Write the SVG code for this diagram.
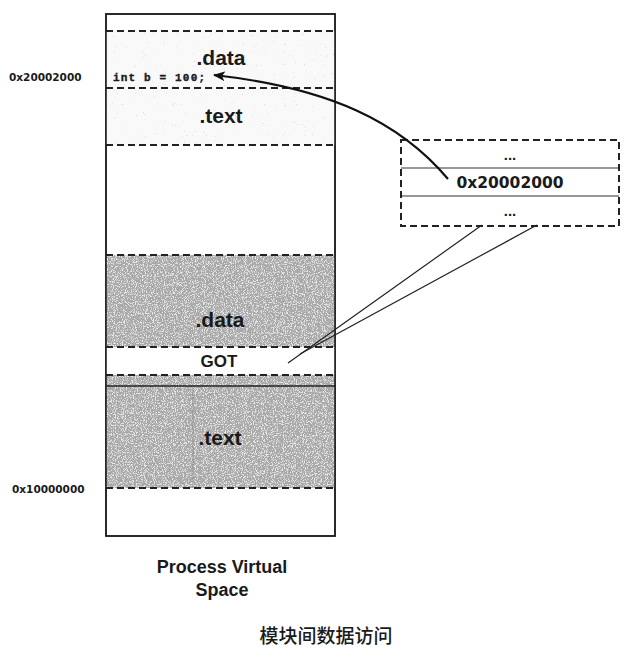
<svg xmlns="http://www.w3.org/2000/svg" width="628" height="664" viewBox="0 0 628 664">
<style>
.solid{fill:none;stroke:#222;stroke-width:1.6}
.dash{fill:none;stroke:#222;stroke-width:2;stroke-dasharray:7 4}
.thin{fill:none;stroke:#333;stroke-width:1.2}
.light{fill:#f9f9f9}
.grey{fill:#a9a9a9}
.lbl{font-family:"Liberation Sans",Arial,sans-serif;font-weight:bold;fill:#1a1a1a}
.wide{font-family:"DejaVu Sans","Liberation Sans",sans-serif;font-weight:bold;fill:#1a1a1a}
.big{font-size:21px;text-anchor:middle}
.mono{font-family:"Liberation Mono","Courier New",monospace;font-weight:bold;font-size:11px;fill:#1a1a1a;stroke:#1a1a1a;stroke-width:0.35}
.addr{font-size:10.5px}
</style>
<defs>
<filter id="speck" x="0" y="0" width="100%" height="100%">
<feTurbulence type="fractalNoise" baseFrequency="0.9" numOctaves="2" seed="4" result="n"/>
<feColorMatrix in="n" type="matrix" values="0 0 0 0 1 0 0 0 0 1 0 0 0 0 1 9 0 0 0 -4.6"/>
</filter>
<filter id="speckd" x="0" y="0" width="100%" height="100%">
<feTurbulence type="fractalNoise" baseFrequency="1.1" numOctaves="1" seed="7" result="n"/>
<feColorMatrix in="n" type="matrix" values="0 0 0 0 0.5 0 0 0 0 0.5 0 0 0 0 0.5 14 0 0 0 -9.8"/>
</filter>
<marker id="ah" markerWidth="12" markerHeight="10" refX="11" refY="5" orient="auto" markerUnits="userSpaceOnUse">
<path d="M0,0 L12,5 L0,10 L3,5 Z" fill="#111"/>
</marker>
</defs>
<rect width="628" height="664" fill="#fff"/>

<g id="process-space">
<rect x="106" y="14" width="229" height="522" fill="#fff" class="solid"/>
</g>

<g id="upper-data">
<rect x="106" y="31" width="229" height="57" class="light"/>
<rect x="106" y="31" width="229" height="57" filter="url(#speckd)" opacity="0.5"/>
<line x1="106" y1="31" x2="335" y2="31" class="dash"/>
<text x="221" y="65" class="lbl big">.data</text>
<text x="113" y="81" class="mono" textLength="92">int b = 100;</text>
</g>

<g id="upper-text">
<rect x="106" y="88" width="229" height="57" class="light"/>
<rect x="106" y="88" width="229" height="57" filter="url(#speckd)" opacity="0.5"/>
<line x1="106" y1="88" x2="335" y2="88" class="dash"/>
<line x1="106" y1="145" x2="335" y2="145" class="dash"/>
<text x="221" y="123" class="lbl big">.text</text>
</g>

<g id="lower-data">
<rect x="106" y="255" width="229" height="92" class="grey"/>
<rect x="106" y="255" width="229" height="92" filter="url(#speck)" opacity="0.7"/>
<line x1="106" y1="255" x2="335" y2="255" class="dash"/>
<text x="220" y="327" class="lbl big" fill="#2a2a2a">.data</text>
</g>

<g id="got">
<rect x="106" y="347" width="229" height="28" fill="#fff"/>
<line x1="106" y1="347" x2="335" y2="347" class="dash"/>
<text x="219" y="367" class="lbl" font-size="17" text-anchor="middle">GOT</text>
</g>

<g id="lower-text">
<rect x="106" y="375" width="229" height="113" class="grey"/>
<rect x="106" y="375" width="229" height="113" filter="url(#speck)" opacity="0.7"/>
<line x1="193" y1="386" x2="193" y2="488" stroke="#888" stroke-width="0.8"/>
<line x1="106" y1="375" x2="335" y2="375" class="dash"/>
<line x1="106" y1="386" x2="335" y2="386" class="solid"/>
<line x1="106" y1="488" x2="335" y2="488" class="dash"/>
<text x="220" y="445" class="lbl big">.text</text>
</g>

<g id="process-border">
<rect x="106" y="14" width="229" height="522" class="solid"/>
</g>

<g id="addr-labels">
<text x="9" y="81" class="wide addr">0x20002000</text>
<text x="12" y="493" class="wide addr">0x10000000</text>
</g>

<g id="got-table">
<rect x="401" y="140" width="218" height="86" fill="#fff"/>
<line x1="401" y1="168" x2="619" y2="168" class="thin"/>
<line x1="401" y1="196" x2="619" y2="196" class="thin"/>
<rect x="401" y="140" width="218" height="86" class="dash"/>
<text x="510" y="160" class="lbl" font-size="15" text-anchor="middle">...</text>
<text x="510" y="188" class="wide" font-size="15.5" text-anchor="middle">0x20002000</text>
<text x="510" y="216" class="lbl" font-size="15" text-anchor="middle">...</text>
</g>

<g id="connectors">
<path d="M448,179 C400,122 330,88 214,75" fill="none" stroke="#111" stroke-width="2.2" marker-end="url(#ah)"/>
<line x1="482" y1="225" x2="288" y2="363" stroke="#222" stroke-width="1.2"/>
<line x1="537" y1="225" x2="300" y2="354" stroke="#222" stroke-width="1.2"/>
</g>

<g id="captions">
<text x="222" y="573" class="lbl" font-size="18" text-anchor="middle">Process Virtual</text>
<text x="222" y="596" class="lbl" font-size="18" text-anchor="middle">Space</text>
<text x="326" y="643" font-family="'Noto Sans CJK SC',sans-serif" font-size="19" font-weight="500" fill="#1a1a1a" text-anchor="middle">模块间数据访问</text>
</g>
</svg>
